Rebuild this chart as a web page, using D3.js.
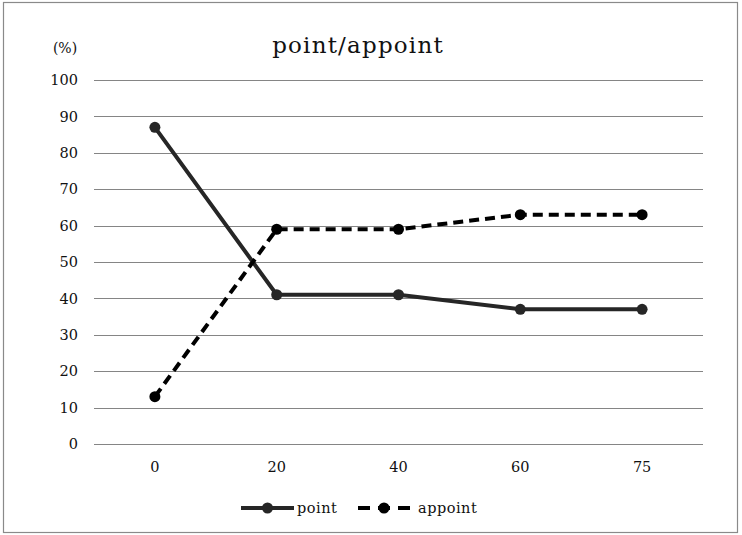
<!DOCTYPE html>
<html>
<head>
<meta charset="utf-8">
<script src="https://cdn.jsdelivr.net/npm/d3@7"></script>
<style>
  body { margin: 0; background: #fff; }
  svg { display: block; }
  svg text { font-family: "DejaVu Serif", "Liberation Serif", serif; }
</style>
</head>
<body>
<div id="chart"></div>
<script>
// data
var categories = ["0", "20", "40", "60", "75"];
var pointValues = [87, 41, 41, 37, 37];
var appointValues = [13, 59, 59, 63, 63];
var yTicks = [0, 10, 20, 30, 40, 50, 60, 70, 80, 90, 100];

var width = 742, height = 535;
var lineColor = "#262626";
var gridColor = "#858585";
var font = "DejaVu Serif";

var svg = d3.select("#chart").append("svg")
    .attr("width", width)
    .attr("height", height);

// outer frame
svg.append("rect")
    .attr("x", 3.5).attr("y", 2.5)
    .attr("width", 734).attr("height", 530)
    .attr("fill", "#fff")
    .attr("stroke", "#8a8a8a")
    .attr("stroke-width", 1.2);

var x = d3.scaleBand().domain(categories).range([94, 703]);
var y = d3.scaleLinear().domain([0, 100]).range([444, 80]);

// grid lines
svg.selectAll(".grid")
    .data(yTicks)
    .enter()
    .append("line")
    .attr("x1", 94).attr("x2", 703)
    .attr("y1", function(d){ return Math.round(y(d)) + 0.5; })
    .attr("y2", function(d){ return Math.round(y(d)) + 0.5; })
    .attr("stroke", gridColor)
    .attr("stroke-width", 1.2);

// y axis labels
var yAxis = d3.axisLeft(y).tickValues(yTicks).tickSize(0).tickPadding(0);
var gy = svg.append("g").attr("transform", "translate(78,0)").call(yAxis);
gy.select(".domain").remove();
gy.attr("font-family", null);
gy.selectAll("text")
    .style("font-family", font)
    .style("font-size", "14.5px")
    .attr("fill", "#111");

// x axis labels
var xAxis = d3.axisBottom(x).tickSize(0).tickPadding(0);
var gx = svg.append("g").attr("transform", "translate(0,462)").call(xAxis);
gx.select(".domain").remove();
gx.attr("font-family", null);
gx.selectAll("text")
    .style("font-family", font)
    .style("font-size", "14.5px")
    .attr("fill", "#111");

// unit label
svg.append("text")
    .attr("x", 65).attr("y", 53)
    .attr("text-anchor", "middle")
    .style("font-size", "14px")
    .attr("fill", "#111")
    .text("(%)");

// title
svg.append("text")
    .attr("x", 358).attr("y", 53)
    .attr("text-anchor", "middle")
    .style("font-size", "23px")
    .style("letter-spacing", "1.2px")
    .attr("fill", "#111")
    .text("point/appoint");

var series = [
    {name: "point", values: pointValues, dash: null, color: lineColor},
    {name: "appoint", values: appointValues, dash: "10,6", color: "#000"}
];

var line = d3.line()
    .x(function(d, i){ return x(categories[i]) + x.bandwidth() / 2; })
    .y(function(d){ return y(d); });

series.forEach(function(s){
    svg.append("path")
        .datum(s.values)
        .attr("d", line)
        .attr("fill", "none")
        .attr("stroke", s.color)
        .attr("stroke-width", 4)
        .attr("stroke-dasharray", s.dash);

    svg.selectAll(".dot_" + s.name)
        .data(s.values)
        .enter()
        .append("circle")
        .attr("cx", function(d, i){ return x(categories[i]) + x.bandwidth() / 2; })
        .attr("cy", function(d){ return y(d); })
        .attr("r", 5.5)
        .attr("fill", s.color);
});

// legend
var legend_data = [
    {name: "point", x1: 241, x2: 294, tx: 297, dash: null, color: lineColor},
    {name: "appoint", x1: 358, x2: 410, tx: 418, dash: "12,8", color: "#000"}
];
var ly = 508;
legend_data.forEach(function(d){
    svg.append("line")
        .attr("x1", d.x1).attr("x2", d.x2)
        .attr("y1", ly).attr("y2", ly)
        .attr("stroke", d.color)
        .attr("stroke-width", 4)
        .attr("stroke-dasharray", d.dash);
    svg.append("circle")
        .attr("cx", (d.x1 + d.x2) / 2).attr("cy", ly)
        .attr("r", 5.5)
        .attr("fill", d.color);
    svg.append("text")
        .attr("x", d.tx).attr("y", ly + 5)
        .style("font-size", "14.5px")
        .style("letter-spacing", "0.5px")
        .attr("fill", "#111")
        .text(d.name);
});
</script>
</body>
</html>
